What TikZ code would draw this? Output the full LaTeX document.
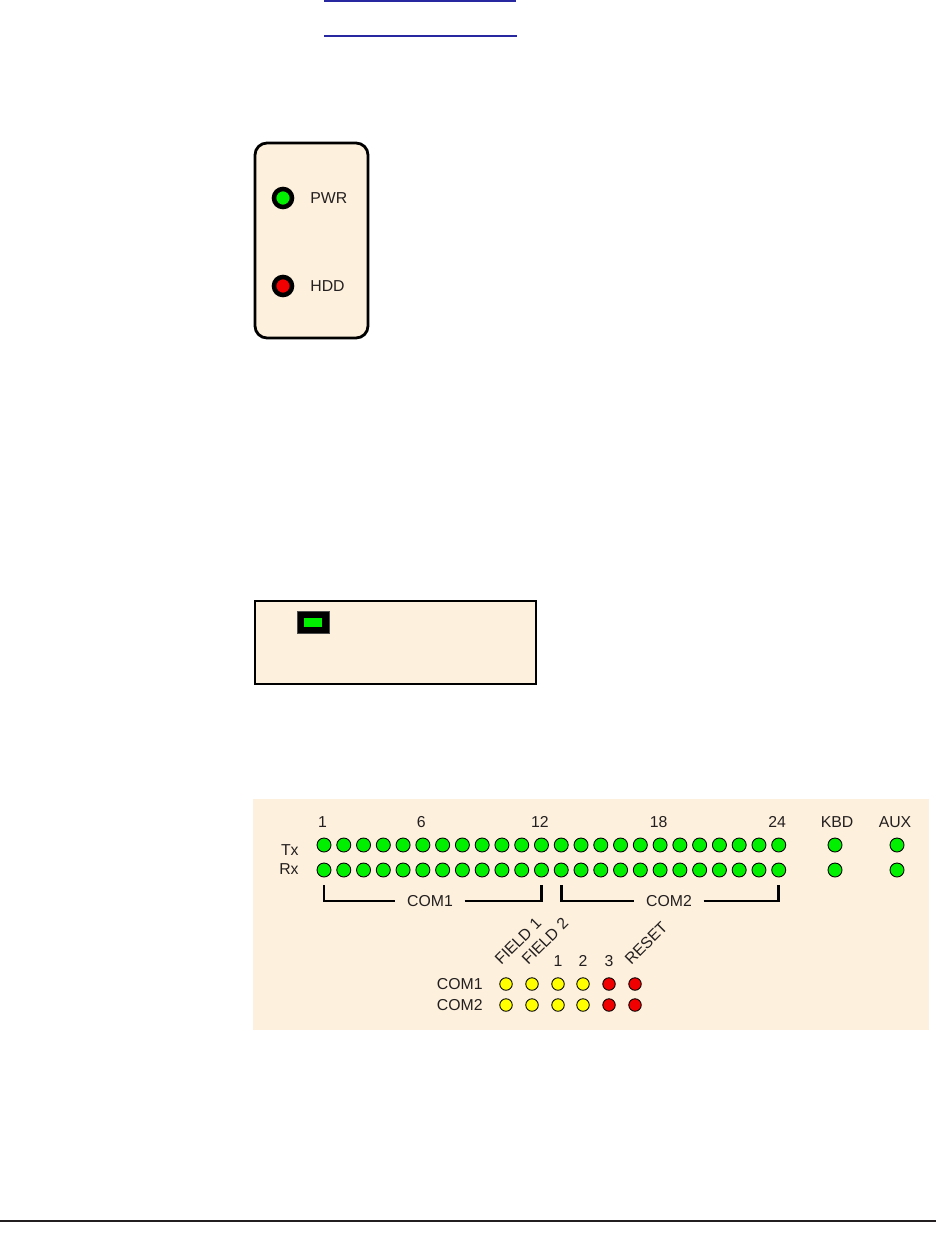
\documentclass[tikz,border=0pt]{standalone}
\usepackage{fontspec}
\setmainfont{Liberation Sans}
\usetikzlibrary{positioning}

\definecolor{panelbg}{RGB}{253,240,220}
\definecolor{ledgreen}{RGB}{0,240,0}
\definecolor{ledred}{RGB}{240,0,0}
\definecolor{ledyellow}{RGB}{255,255,0}
\definecolor{inkgray}{RGB}{35,31,32}
\definecolor{linkblue}{RGB}{40,40,160}

\begin{document}
\begin{tikzpicture}[
  x=0.02cm, y=-0.02cm,
  font=\fontsize{9}{11}\selectfont,
  every node/.style={text=inkgray},
  panel/.style={draw=black, line width=1.6pt, fill=panelbg},
  bigled/.style={circle, draw=black, line width=2.6pt, inner sep=0pt, minimum size=3.6mm},
  led/.style={circle, draw=black, line width=0.5pt, inner sep=0pt, minimum size=2.8mm, fill=ledgreen},
  ioled/.style={circle, draw=black, line width=0.5pt, inner sep=0pt, minimum size=2.5mm},
  bracket/.style={draw=black, line width=1.5pt},
  link/.style={draw=linkblue, line width=0.8pt},
]
\useasboundingbox (0,0) rectangle (936,1257);

% ---------- geometry ----------
\def\colA{324}    % x of channel 1
\def\colD{19.77}  % channel pitch
\def\rowTx{845}
\def\rowRx{870}

% =====================================================
% link underlines at top
% =====================================================
\coordinate (linkAa) at (324,1);
\coordinate (linkAb) at (516,1);
\coordinate (linkBa) at (324,36);
\coordinate (linkBb) at (517,36);
\draw[link] (linkAa) -- (linkAb);
\draw[link] (linkBa) -- (linkBb);

% =====================================================
% PANEL 1 : front LEDs
% =====================================================
\begin{scope}
  \draw[panel, rounded corners=2.4mm] (255,143) rectangle (368,338);

  \node[bigled, fill=ledgreen] (pwrled) at (283,198) {};
  \node[bigled, fill=ledred]   (hddled) at (283,286) {};
  \node[anchor=west, inner sep=0pt] (pwrlbl) at (310,198) {PWR};
  \node[anchor=west, inner sep=0pt] (hddlbl) at (310,286) {HDD};
\end{scope}

% =====================================================
% PANEL 2 : status indicator
% =====================================================
\begin{scope}
  \draw[panel] (255,601) rectangle (536,684);

  \node[fill=black, draw=gray!60!black, line width=0.3pt, inner sep=0pt,
        minimum width=6.4mm, minimum height=4.4mm] (statled) at (313,622) {};
  \node[fill=ledgreen, inner sep=0pt, minimum width=3.6mm, minimum height=1.8mm]
        (statlit) at (statled.center) {};
\end{scope}

% =====================================================
% PANEL 3 : serial channel LEDs
% =====================================================
\begin{scope}
  \fill[panelbg] (253,799) rectangle (929,1030);

  % Tx / Rx rows, 24 channels
  \foreach \i in {1,...,24} {
    \pgfmathsetmacro\x{\colA+(\i-1)*\colD}
    \node[led] (tx\i) at (\x,\rowTx) {};
    \node[led] (rx\i) at (\x,\rowRx) {};
  }
  \node[led] (kbdtx) at (835,\rowTx) {};
  \node[led] (kbdrx) at (835,\rowRx) {};
  \node[led] (auxtx) at (897,\rowTx) {};
  \node[led] (auxrx) at (897,\rowRx) {};

  % channel numbers
  \foreach \i in {1,6,12,18,24} {
    \pgfmathsetmacro\x{\colA+(\i-1)*\colD-1.5}
    \node[inner sep=0pt] (num\i) at (\x,822) {\i};
  }
  \node[inner sep=0pt] (kbdlbl) at (837,822) {KBD};
  \node[inner sep=0pt] (auxlbl) at (895,822) {AUX};
  \node[anchor=east, inner sep=0pt] (txlbl) at (299,850) {Tx};
  \node[anchor=east, inner sep=0pt] (rxlbl) at (299,869) {Rx};

  % port brackets
  \node[inner sep=0pt, inner xsep=2.3mm] (com1lbl) at (430,901) {COM1};
  \node[inner sep=0pt, inner xsep=2.3mm] (com2lbl) at (669,901) {COM2};
  \coordinate (brA1) at (rx1.south |- 0,885);
  \coordinate (brA2) at (rx12.south |- 0,885);
  \coordinate (brB1) at (rx13.south |- 0,885);
  \coordinate (brB2) at (rx24.south |- 0,885);
  \draw[bracket] (brA1) |- (com1lbl.west);
  \draw[bracket] (com1lbl.east) -| (brA2);
  \draw[bracket] (brB1) |- (com2lbl.west);
  \draw[bracket] (com2lbl.east) -| (brB2);

  % I/O status block
  \node[anchor=east, inner sep=0pt] (io1lbl) at (483,984) {COM1};
  \node[anchor=east, inner sep=0pt] (io2lbl) at (483,1005) {COM2};
  \foreach \x/\c [count=\k] in {506/ledyellow,532/ledyellow,558/ledyellow,583/ledyellow,609/ledred,635/ledred} {
    \node[ioled, fill=\c] (ioa\k) at (\x,984) {};
    \node[ioled, fill=\c] (iob\k) at (\x,1005) {};
  }
  \node[rotate=45, anchor=base west, inner sep=0pt] (fld1) at (501,966) {FIELD 1};
  \node[rotate=45, anchor=base west, inner sep=0pt] (fld2) at (528,966) {FIELD 2};
  \node[inner sep=0pt] (io3num) at (558,961) {1};
  \node[inner sep=0pt] (io4num) at (583,961) {2};
  \node[inner sep=0pt] (io5num) at (609,961) {3};
  \node[rotate=45, anchor=base west, inner sep=0pt] (rstlbl) at (631,966) {RESET};
\end{scope}

% bottom rule
\coordinate (ruleL) at (0,1221);
\coordinate (ruleR) at (936,1221);
\draw[inkgray, line width=1.1pt] (ruleL) -- (ruleR);

\end{tikzpicture}
\end{document}
